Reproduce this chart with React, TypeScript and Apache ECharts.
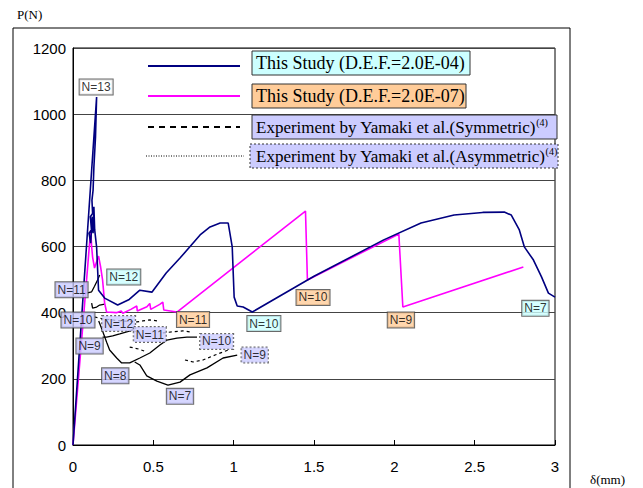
import React, { useEffect, useRef } from "react";
import * as echarts from "echarts";

// ---- data (δ in mm, P in N) ----
const simDef204: [number, number][] = [
  [0, 0], [0.147, 1052], [0.14, 930], [0.13, 840], [0.125, 770], [0.118, 740], [0.122, 700],
  [0.108, 690], [0.115, 650], [0.1, 640], [0.11, 610], [0.12, 690], [0.125, 640], [0.13, 720],
  [0.135, 650], [0.147, 598], [0.159, 468], [0.197, 444], [0.278, 423], [0.35, 440], [0.416, 468],
  [0.491, 462], [0.58, 520], [0.666, 565], [0.791, 635], [0.853, 659], [0.916, 671], [0.966, 671],
  [0.991, 599], [1.003, 447], [1.022, 420], [1.059, 417], [1.116, 402], [1.5, 510], [1.934, 620],
  [2.166, 671], [2.372, 695], [2.55, 703], [2.684, 704], [2.728, 695], [2.778, 650], [2.809, 599],
  [2.866, 559], [2.916, 508], [2.959, 459], [3.0, 447],
];
const simDef207: [number, number][] = [
  [0, 0], [0.11, 650], [0.116, 600], [0.122, 568], [0.134, 535], [0.159, 571], [0.172, 538],
  [0.184, 499], [0.197, 429], [0.209, 402], [0.27, 400], [0.3, 405], [0.31, 398], [0.36, 410],
  [0.397, 420], [0.4, 405], [0.46, 418], [0.478, 428], [0.484, 410], [0.54, 425], [0.559, 432],
  [0.565, 408], [0.647, 402], [1.447, 707], [1.459, 499], [2.028, 638], [2.053, 417], [2.803, 538],
];
const expSymN11: [number, number][] = [[0.084, 459], [0.116, 463], [0.134, 480], [0.153, 499], [0.166, 514]];
const expSymN10: [number, number][] = [[0.116, 429], [0.122, 414], [0.147, 417], [0.166, 423], [0.197, 426]];
const expSymN9: [number, number][] = [[0.184, 326], [0.209, 326], [0.247, 330], [0.291, 336], [0.34, 343], [0.372, 348]];
const expSymN8: [number, number][] = [
  [0.16, 375], [0.18, 350], [0.21, 310], [0.228, 287], [0.272, 263], [0.303, 248], [0.353, 248],
  [0.416, 263], [0.478, 278], [0.541, 302], [0.584, 317], [0.647, 323], [0.709, 326], [0.772, 326],
];
const expSymN7: [number, number][] = [
  [0.384, 251], [0.416, 242], [0.459, 209], [0.522, 193], [0.591, 181], [0.666, 190], [0.728, 212],
  [0.834, 233], [0.934, 263], [1.022, 272],
];
const expAsymN12: [number, number][] = [[0.134, 387], [0.19, 381], [0.28, 376], [0.397, 372], [0.434, 375], [0.478, 378], [0.528, 375]];
const expAsymN11: [number, number][] = [[0.559, 339], [0.622, 342], [0.684, 345], [0.728, 342]];
const expAsymN10: [number, number][] = [[0.697, 257], [0.747, 251], [0.809, 257], [0.884, 272], [0.966, 287]];
const expAsymN9: [number, number][] = [[0.353, 296], [0.41, 290], [0.459, 281]];

// annotation labels: [δ, P, text]
const labelsDef204: [number, number, string][] = [[0.316, 508, "N=12"], [1.188, 367, "N=10"], [2.878, 413, "N=7"]];
const labelsDef207: [number, number, string][] = [[0.747, 379, "N=11"], [1.494, 446, "N=10"], [2.041, 378, "N=9"]];
const labelsSym: [number, number, string][] = [
  [-0.009, 469, "N=11"], [0.031, 378, "N=10"], [0.103, 299, "N=9"], [0.263, 209, "N=8"], [0.666, 147, "N=7"],
];
const labelsAsym: [number, number, string][] = [[0.284, 367, "N=12"], [0.478, 334, "N=11"], [0.894, 313, "N=10"], [1.131, 272, "N=9"]];
const labelsPeak: [number, number, string][] = [[0.144, 1082, "N=13"]];

const legendTexts = [
  "This Study (D.E.F.=2.0E-04)",
  "This Study (D.E.F.=2.0E-07)",
  "Experiment by Yamaki et al.(Symmetric)",
  "Experiment by Yamaki et al.(Asymmetric)",
];

const SANS = '"Liberation Sans", Arial, sans-serif';
const SERIF = '"Liberation Serif", "Times New Roman", serif';

function lineSeries(data: [number, number][], color: string, width: number, type: any, z: number) {
  return {
    type: "line",
    data,
    symbol: "none",
    showSymbol: false,
    z,
    lineStyle: { color, width, type },
    silent: true,
  };
}

function labelSeries(items: [number, number, string][], bg: string, borderType: any) {
  return {
    type: "scatter",
    data: items.map((d) => ({ value: [d[0], d[1]], name: d[2] })),
    symbolSize: 1,
    itemStyle: { color: "rgba(0,0,0,0)" },
    clip: false,
    z: 10,
    silent: true,
    label: {
      show: true,
      position: "inside",
      formatter: "{b}",
      fontSize: 12,
      fontFamily: SANS,
      color: "#000",
      backgroundColor: bg,
      borderColor: "#444",
      borderWidth: 1,
      borderType,
      padding: [2, 2, 1, 2],
    },
  };
}

export default function App() {
  const ref = useRef<HTMLDivElement>(null);
  useEffect(() => {
    if (!ref.current) return;
    const chart = echarts.init(ref.current, null, { renderer: "svg" });
    const legendBox = (x: number, y: number, w: number, fill: string, dash: any) => ({
      type: "rect",
      shape: { x, y, width: w, height: 24 },
      style: { fill, stroke: "#333", lineWidth: 1, lineDash: dash },
      z: 20,
    });
    const legendText = (y: number, t: string, sup: boolean, size: number) => ({
      type: "text",
      x: 256,
      y,
      z: 21,
      style: {
        text: sup ? `{m|${t}}{s|(4)}` : `{m|${t}}`,
        rich: {
          m: { fontSize: size, fontFamily: SERIF, fill: "#000", lineHeight: 20 },
          s: { fontSize: 10, fontFamily: SERIF, fill: "#000", verticalAlign: "top" },
        },
        verticalAlign: "middle",
        textVerticalAlign: "middle",
      },
    });
    chart.setOption({
      animation: false,
      backgroundColor: "#fff",
      grid: { left: 73, right: 88, top: 48, bottom: 43, show: true, borderColor: "#000", borderWidth: 1 },
      xAxis: {
        type: "value",
        min: 0,
        max: 3,
        interval: 0.5,
        axisLine: { show: true, lineStyle: { color: "#000" } },
        axisTick: { show: true, inside: true, length: 5, lineStyle: { color: "#000" } },
        axisLabel: { margin: 14, fontSize: 15, color: "#000", fontFamily: SANS, formatter: (v: number) => String(v) },
        splitLine: { show: false },
      },
      yAxis: {
        type: "value",
        min: 0,
        max: 1200,
        interval: 200,
        axisLine: { show: true, lineStyle: { color: "#000" } },
        axisTick: { show: false },
        axisLabel: { margin: 7, fontSize: 15, color: "#000", fontFamily: SANS, formatter: (v: number) => String(v) },
        splitLine: { show: true, lineStyle: { color: "#444", width: 1 } },
      },
      series: [
        lineSeries(expSymN11, "#000", 1.3, "solid", 2),
        lineSeries(expSymN10, "#000", 1.3, "solid", 2),
        lineSeries(expSymN9, "#000", 1.3, "solid", 2),
        lineSeries(expSymN8, "#000", 1.3, "solid", 2),
        lineSeries(expSymN7, "#000", 1.3, "solid", 2),
        lineSeries(expAsymN12, "#000", 1.2, [3, 3], 2),
        lineSeries(expAsymN11, "#000", 1.2, [3, 3], 2),
        lineSeries(expAsymN10, "#000", 1.2, [3, 3], 2),
        lineSeries(expAsymN9, "#000", 1.2, [3, 3], 2),
        lineSeries(simDef207, "#FF00FF", 1.6, "solid", 3),
        lineSeries(simDef204, "#000080", 1.6, "solid", 4),
        labelSeries(labelsDef204, "#CCFFFF", "solid"),
        labelSeries(labelsDef207, "#FFCC99", "solid"),
        labelSeries(labelsSym, "#CCCCFF", "solid"),
        labelSeries(labelsAsym, "#CCCCFF", [2, 2]),
        labelSeries(labelsPeak, "#FFFFFF", "solid"),
      ],
      graphic: [
        { type: "rect", shape: { x: 13, y: 28, width: 557, height: 480 }, style: { fill: "none", stroke: "#000", lineWidth: 1 }, z: 0 },
        { type: "text", x: 17, y: 14, style: { text: "P(N)", font: `13px ${SERIF}`, fill: "#000", verticalAlign: "middle", textVerticalAlign: "middle" } },
        { type: "text", x: 590, y: 479, style: { text: "δ(mm)", font: `13px ${SERIF}`, fill: "#000", verticalAlign: "middle", textVerticalAlign: "middle" } },
        { type: "line", shape: { x1: 148, y1: 66, x2: 240, y2: 66 }, style: { stroke: "#000080", lineWidth: 2 }, z: 20 },
        { type: "line", shape: { x1: 148, y1: 96, x2: 240, y2: 96 }, style: { stroke: "#FF00FF", lineWidth: 2 }, z: 20 },
        { type: "line", shape: { x1: 148, y1: 127, x2: 240, y2: 127 }, style: { stroke: "#000", lineWidth: 2, lineDash: [6, 5] }, z: 20 },
        { type: "line", shape: { x1: 146, y1: 156, x2: 244, y2: 156 }, style: { stroke: "#000", lineWidth: 1, lineDash: [1, 1.5] }, z: 20 },
        legendBox(252, 51, 218, "#CCFFFF", null),
        legendBox(252, 84, 214, "#FFCC99", null),
        legendBox(252, 115, 305, "#CCCCFF", null),
        legendBox(250, 144, 308, "#CCCCFF", [2, 2]),
        legendText(63, legendTexts[0], false, 18),
        legendText(96, legendTexts[1], false, 18),
        legendText(127, legendTexts[2], true, 17),
        legendText(156, legendTexts[3], true, 17),
      ],
    });
    return () => chart.dispose();
  }, []);
  return <div ref={ref} style={{ position: "fixed", left: 0, top: 0, width: 643, height: 488 }} />;
}
